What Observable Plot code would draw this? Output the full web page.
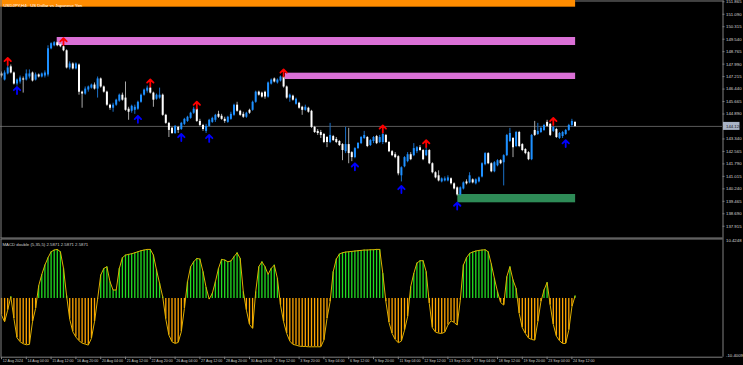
<!DOCTYPE html>
<html><head><meta charset="utf-8">
<script src="https://cdn.jsdelivr.net/npm/d3@7"></script>
<script src="https://cdn.jsdelivr.net/npm/@observablehq/plot@0.6"></script>
<style>
html,body{margin:0;padding:0;background:#000;}
#chart{width:743px;height:365px;overflow:hidden;background:#000;}
#chart svg{display:block;}
</style></head><body><div id="chart"></div>
<script>
const title = "USDJPY,H4:  US Dollar vs Japanese Yen";
const macdTitle = "MACD double (5,35,5) 2.5871 2.5871 2.5871";
const lastPriceLabel = "144.120";
const lastPrice = 144.12;

const openP = [147.38,147.00,147.38,147.82,147.44,146.75,146.88,147.07,147.00,147.19,147.44,147.00,147.32,147.19,147.25,147.32,148.94,149.13,149.32,149.20,
149.07,148.82,147.75,148.00,147.69,147.94,146.25,146.13,146.38,146.50,146.69,146.44,147.07,146.57,146.25,145.44,145.25,145.44,145.69,146.06,
145.88,145.19,145.06,145.12,145.19,145.62,146.06,146.31,146.50,146.19,145.81,145.88,146.06,144.81,144.31,144.00,143.68,144.06,143.93,144.25,
144.43,144.62,144.94,145.19,144.43,144.18,143.81,144.12,144.37,144.50,144.87,144.75,144.56,144.37,144.56,144.81,145.44,145.06,144.87,144.69,
145.12,145.12,145.62,146.25,146.19,146.25,145.94,146.75,147.07,146.82,146.94,147.19,146.57,145.88,146.00,145.50,145.56,145.31,145.12,145.25,
145.06,144.06,143.81,143.74,143.62,143.43,143.12,143.49,143.31,143.18,142.99,142.55,142.99,142.49,142.18,142.74,143.05,143.37,143.43,142.93,
143.18,143.49,143.12,143.12,143.56,143.12,142.55,142.36,142.24,141.05,141.61,141.93,142.36,142.30,142.55,142.80,142.62,142.30,142.62,141.80,
141.24,141.05,140.67,140.73,140.73,140.86,140.55,140.30,139.86,140.23,140.67,140.61,140.80,140.55,140.67,140.98,141.74,142.43,141.80,141.30,
141.67,141.99,141.86,142.30,143.18,143.37,142.87,143.74,142.99,142.68,142.49,142.05,143.87,143.62,143.74,143.87,144.37,144.25,143.81,143.93,
143.37,143.49,143.62,143.87,144.18,144.37];
const highP = [147.50,147.57,147.94,147.94,147.50,147.07,147.25,147.19,147.63,147.63,147.50,147.44,147.38,147.44,147.57,149.13,149.32,149.39,149.39,149.39,
149.13,148.88,148.13,148.07,148.07,148.00,146.31,146.57,146.63,146.75,146.82,147.19,147.13,146.63,146.31,145.50,145.56,145.81,146.13,146.19,
146.88,145.31,145.44,145.44,145.69,146.13,146.44,146.63,146.57,146.25,146.13,146.50,146.13,144.87,144.37,144.06,144.18,144.12,144.37,144.62,
144.75,145.00,145.31,145.25,144.56,144.25,144.25,144.56,144.69,144.87,145.06,144.87,144.69,144.75,145.00,145.50,145.62,145.12,145.00,145.00,
145.19,145.69,146.31,146.31,146.25,146.31,146.88,147.07,147.13,147.07,147.25,147.25,146.63,146.13,146.06,145.88,145.62,145.37,145.44,145.31,
145.12,144.12,143.93,143.87,143.68,143.49,144.31,143.56,143.43,143.24,143.05,144.06,144.00,142.55,142.80,143.12,143.49,143.81,143.49,143.31,
143.49,143.56,143.56,143.74,143.62,143.18,142.62,142.49,142.30,141.61,142.24,142.49,142.49,143.05,142.87,142.93,142.68,142.80,142.68,141.86,
141.30,141.36,140.92,140.98,141.05,140.92,140.61,140.36,140.36,140.67,140.80,141.24,140.86,140.86,140.98,141.86,142.49,142.49,141.86,141.93,
142.05,142.05,142.36,143.62,144.00,143.43,143.81,143.81,143.05,142.74,142.55,143.62,144.43,144.31,144.06,144.25,144.50,144.31,144.12,144.00,
143.74,143.81,143.93,144.25,144.56,144.43];
const lowP = [147.13,146.94,147.32,147.38,146.69,146.63,146.75,146.19,146.94,147.07,146.88,146.94,147.13,147.13,147.13,147.19,148.88,149.07,149.07,149.01,
148.76,147.69,147.63,147.63,147.63,146.06,145.25,146.06,146.25,146.44,146.38,145.88,146.50,146.19,145.37,145.12,145.00,145.37,145.62,145.69,
145.06,144.50,144.94,144.87,145.12,145.56,146.00,146.19,146.13,145.31,145.75,145.81,144.75,144.25,143.43,143.62,143.62,143.68,143.87,144.18,
144.37,144.56,144.87,144.37,144.12,143.81,143.68,144.06,144.31,144.37,144.62,144.50,144.31,144.31,144.50,144.75,145.00,144.75,144.62,144.62,
144.87,145.06,145.56,146.00,145.88,145.81,145.88,146.69,146.82,146.75,146.88,146.50,145.81,145.62,145.69,145.44,145.19,144.81,145.06,144.94,
144.00,143.68,143.56,143.37,143.05,142.80,143.05,143.18,143.05,142.87,141.99,142.43,141.80,141.93,142.11,142.68,142.99,143.31,142.80,142.87,
143.05,142.99,143.05,142.99,143.05,142.49,142.24,142.11,141.05,140.67,141.55,141.86,141.99,142.24,142.43,142.55,141.99,142.24,141.74,141.17,
140.86,140.67,140.61,140.67,140.67,140.48,140.17,139.79,139.79,140.17,140.48,140.55,140.55,140.48,140.61,140.92,141.67,141.74,141.24,141.24,
141.61,141.74,140.42,142.24,143.12,142.18,142.80,142.80,142.55,142.36,141.99,141.99,143.49,143.56,143.68,143.81,144.06,143.49,143.74,143.37,
143.31,143.37,143.56,143.81,144.06,144.06];
const closeP = [147.25,147.44,147.75,147.44,146.75,147.00,147.13,147.00,147.38,147.38,146.94,147.32,147.19,147.38,147.44,148.94,149.26,149.32,149.13,149.07,
148.82,147.75,148.00,147.69,148.00,146.25,146.13,146.44,146.57,146.69,146.44,147.07,146.57,146.25,145.44,145.25,145.44,145.75,146.06,145.75,
145.12,145.00,145.37,145.31,145.62,146.06,146.38,146.50,146.19,145.75,146.06,146.06,144.81,144.31,143.87,143.68,144.12,143.87,144.31,144.56,
144.69,144.94,145.19,144.43,144.18,143.93,144.12,144.50,144.62,144.81,144.69,144.56,144.43,144.69,144.87,145.44,145.06,144.81,144.69,144.94,
144.94,145.62,146.25,146.06,145.94,145.94,146.82,147.00,146.88,147.00,147.19,146.57,145.88,146.06,145.75,145.81,145.25,145.12,145.31,145.00,
144.06,143.74,143.68,143.56,143.12,143.12,143.56,143.24,143.12,142.93,142.62,142.99,142.43,142.18,142.74,143.05,143.43,143.56,142.87,143.24,
143.43,143.05,143.43,143.62,143.12,142.55,142.30,142.18,141.17,141.55,142.18,142.36,142.05,142.74,142.80,142.62,142.05,142.62,141.80,141.24,
140.92,140.73,140.86,140.86,140.92,140.55,140.23,139.86,140.30,140.61,140.55,141.05,140.61,140.80,140.92,141.80,142.43,141.80,141.30,141.86,
141.99,141.80,142.30,143.56,143.68,142.80,143.74,142.87,142.62,142.43,142.05,143.56,143.56,143.81,144.00,144.18,144.12,143.56,144.06,143.43,
143.68,143.74,143.87,144.18,144.43,144.12];

const macdValues = [-2.95,-4.13,-2.07,0.30,-3.54,-6.96,-7.67,-8.02,-8.20,-8.14,-4.13,-1.77,2.24,4.25,5.90,7.20,8.26,8.56,8.67,8.26,
5.31,0.47,-3.66,-5.90,-6.84,-7.49,-7.91,-8.08,-8.26,-7.08,-4.13,-0.12,4.13,5.31,5.61,2.95,1.48,1.48,5.31,7.20,
7.67,7.79,7.91,8.08,8.26,8.44,8.56,8.67,8.67,7.67,5.02,2.66,0.30,-3.66,-6.49,-7.67,-7.97,-7.79,-5.90,-1.77,
2.95,5.61,6.49,7.08,6.96,4.72,1.95,-0.12,0.89,2.95,5.31,6.90,6.79,6.49,6.61,7.38,8.08,7.08,1.18,-2.07,
-4.60,-5.31,1.18,5.61,6.49,5.61,4.25,5.31,5.90,3.54,-1.18,-4.13,-6.20,-7.55,-8.14,-8.26,-8.44,-8.50,-8.50,-8.56,
-8.56,-8.56,-8.56,-8.56,-7.38,-3.54,-0.59,4.72,6.96,7.85,8.08,8.20,8.26,8.32,8.38,8.44,8.50,8.56,8.56,8.61,
8.61,8.67,8.67,4.43,-0.59,-4.25,-6.20,-7.26,-7.85,-7.55,-5.61,-3.25,2.07,4.43,6.25,6.67,6.67,4.72,-0.89,-5.19,
-5.96,-6.14,-6.20,-5.96,-4.72,-3.95,-4.25,-4.72,-0.30,5.90,7.20,7.97,8.20,8.38,8.50,8.56,8.61,8.26,6.08,3.54,
1.18,-0.71,-1.18,3.84,5.61,3.25,1.77,-2.66,-5.19,-6.20,-7.02,-7.26,-7.38,-4.13,-0.59,1.48,2.83,-1.18,-4.60,-6.67,
-7.49,-7.97,-7.97,-5.61,-1.48,0.41];

const sellIdx = [2, 20, 48, 63, 91, 123, 137, 178];
const sellPrice = [148.16, 149.39, 146.82, 145.44, 147.44, 143.96, 143.05, 144.43];
const buyIdx = [5, 44, 58, 67, 114, 129, 147, 182];
const buyPrice = [146.35, 144.56, 143.43, 143.37, 141.61, 140.20, 139.17, 143.05];

const zoneStart = [-0.33, 17.97, 91.6, 147.2];
const zoneEnd = [185.2, 185.2, 185.2, 185.2];
const zoneLow = [151.53, 149.148, 147.035, 139.372];
const zoneHigh = [152.6, 149.645, 147.427, 139.888];
const zoneColor = ["#FF8C00", "#DA70D6", "#DA70D6", "#2E8B57"];

const priceTicks = [151.865,151.090,150.315,149.540,148.765,147.990,147.215,146.440,145.665,144.890,143.340,142.565,141.790,141.015,140.240,139.465,138.690,137.915];
const macdMax = 10.4248, macdMin = -10.4009;
const timeLabels = ["12 Aug 2024","14 Aug 04:00","15 Aug 12:00","16 Aug 20:00","20 Aug 04:00","21 Aug 12:00","22 Aug 20:00","26 Aug 04:00","27 Aug 12:00","28 Aug 20:00","30 Aug 04:00","2 Sep 12:00","3 Sep 20:00","5 Sep 04:00","6 Sep 12:00","9 Sep 20:00","11 Sep 04:00","12 Sep 12:00","13 Sep 20:00","17 Sep 04:00","18 Sep 12:00","19 Sep 20:00","23 Sep 04:00","24 Sep 12:00"];
const barsPerLabel = 8;

// ---- build tables ----
const bars = closeP.map((c, i) => ({i, open: openP[i], high: highP[i], low: lowP[i], close: c}));
const macd = macdValues.map((v, i) => ({i, v}));
const sells = sellIdx.map((i, k) => ({i, p: sellPrice[k]}));
const buys = buyIdx.map((i, k) => ({i, p: buyPrice[k]}));
const zones = zoneStart.map((s, k) => ({s, e: zoneEnd[k], lo: zoneLow[k], hi: zoneHigh[k], c: zoneColor[k]}));
const times = timeLabels.map((t, k) => ({t, i: k * barsPerLabel}));

const W = 743, plotRight = 722, barStep = 3.1, barOffset = 1;
const xDomain = [-barOffset / barStep, (plotRight - barOffset) / barStep];
const axisX = (plotRight + 0.5 - barOffset) / barStep;
const leftX = (0.5 - barOffset) / barStep;
const pxX = 1 / barStep;
const H1 = 238, priceTop = 151.945, pxPerYen = 16.09;
const priceBottom = priceTop - H1 / pxPerYen;
const font = "Liberation Sans, Arial, sans-serif";
const fs = 4.3, fsTime = 3.6;
const grid = "#808080";
const bull = "#1E90FF", bear = "#FFFFFF";

const p1 = Plot.plot({
  width: W, height: H1,
  marginLeft: 0, marginRight: W - plotRight, marginTop: 0, marginBottom: 0,
  style: {background: "#000", color: "#ddd", fontFamily: font, fontSize: fs + "px", overflow: "visible"},
  x: {type: "linear", domain: xDomain, range: [0, plotRight], axis: null},
  y: {type: "linear", domain: [priceBottom, priceTop], range: [H1, 0], axis: null},
  color: {type: "identity"},
  marks: [
    Plot.rect(zones, {x1: "s", x2: "e", y1: "lo", y2: "hi", fill: "c", clip: true}),
    Plot.ruleY([lastPrice], {stroke: "#5a5a5a", strokeWidth: 1}),
    Plot.ruleX(bars, {x: "i", y1: "low", y2: "high", stroke: d => d.close >= d.open ? "#1a70c8" : "#a8a8a8", strokeWidth: 1}),
    Plot.ruleX(bars, {x: "i", y1: "open", y2: "close", stroke: d => d.close >= d.open ? bull : bear, strokeWidth: 2}),
    Plot.vector(sells, {x: "i", y: "p", length: 7, rotate: 0, anchor: "middle", stroke: "#FF0000", strokeWidth: 1.8, r: 8}),
    Plot.vector(buys, {x: "i", y: "p", length: 7, rotate: 0, anchor: "middle", stroke: "#0000FF", strokeWidth: 1.8, r: 8}),
    Plot.text([title], {frameAnchor: "top-left", dx: 3, dy: 3.4, text: d => d, fill: "#ffffff", fontSize: fs, textAnchor: "start"}),
    Plot.ruleY([priceTop - 0.5 / pxPerYen], {stroke: grid, x1: 185.2, x2: axisX}),
    Plot.ruleX([leftX], {stroke: grid}),
    Plot.ruleY([priceTop - (H1 - 0.5) / pxPerYen], {stroke: grid, x1: leftX, x2: axisX}),
    Plot.ruleX([axisX], {stroke: grid}),
    Plot.ruleY(priceTicks, {x1: axisX, x2: axisX + 2 * pxX, stroke: grid}),
    Plot.text(priceTicks, {x: axisX, y: d => d, text: d => d.toFixed(3), dx: 3, textAnchor: "start", fill: "#d8d8d8", fontSize: fs}),
    Plot.rect([lastPrice], {x1: axisX + 0.5 * pxX, x2: axisX + 17 * pxX, y1: d => d - 4 / pxPerYen, y2: d => d + 4 / pxPerYen, fill: "#a9b3c6"}),
    Plot.text([lastPrice], {x: axisX, y: d => d, text: () => lastPriceLabel, dx: 3, textAnchor: "start", fill: "#111", fontSize: fs})
  ]
});

const H2 = 365 - H1, mTop = 1, mBot = 8.3;
const yPx = (H2 - mTop - mBot) / (macdMax - macdMin);
const p2 = Plot.plot({
  width: W, height: H2,
  marginLeft: 0, marginRight: W - plotRight, marginTop: mTop, marginBottom: mBot,
  style: {background: "#000", color: "#ddd", fontFamily: font, fontSize: fs + "px", overflow: "visible"},
  x: {type: "linear", domain: xDomain, range: [0, plotRight], axis: null},
  y: {type: "linear", domain: [macdMin, macdMax], range: [H2 - mBot, mTop], axis: null},
  color: {type: "identity"},
  marks: [
    Plot.ruleY([macdMax], {stroke: grid, dy: -0.5, x1: leftX, x2: axisX}),
    Plot.ruleX(macd, {x: "i", y1: 0, y2: "v", stroke: d => d.v >= 0 ? "#22DD22" : "#FFA500", strokeWidth: 1.3}),
    Plot.line(macd, {x: "i", y: "v", stroke: "#E0B000", strokeWidth: 1}),
    Plot.text([macdTitle], {frameAnchor: "top-left", dx: 2, dy: 3.5, text: d => d, fill: "#cfcfcf", fontSize: fs, textAnchor: "start"}),
    Plot.ruleY([macdMin], {stroke: grid, x1: leftX, x2: axisX}),
    Plot.ruleX([leftX], {stroke: grid, y1: macdMin, y2: macdMax}),
    Plot.ruleX([axisX], {stroke: grid, y1: macdMin, y2: macdMax + 1 / yPx}),
    Plot.ruleX(times, {x: "i", y1: macdMin, y2: macdMin - 2.5 / yPx, stroke: grid}),
    Plot.text(times, {x: "i", y: macdMin, text: "t", dx: 1.2, dy: 3.6, textAnchor: "start", fill: "#cfcfcf", fontSize: fsTime}),
    Plot.text([macdMax], {x: axisX, y: d => d, text: d => d.toFixed(4), dx: 3, dy: 1.5, textAnchor: "start", fill: "#d8d8d8", fontSize: fs}),
    Plot.text([macdMin], {x: axisX, y: d => d, text: d => d.toFixed(4), dx: 3, dy: -2, textAnchor: "start", fill: "#d8d8d8", fontSize: fs})
  ]
});

const root = document.getElementById("chart");
root.appendChild(p1);
root.appendChild(p2);
</script>
</body></html>
